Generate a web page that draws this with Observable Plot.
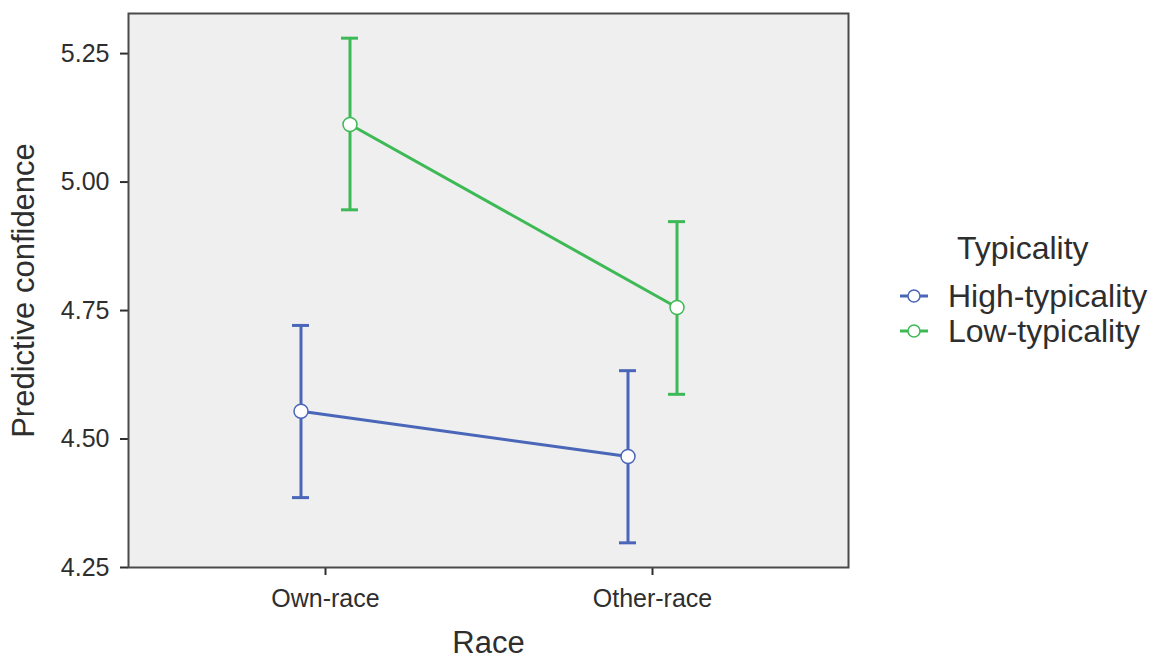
<!DOCTYPE html>
<html>
<head>
<meta charset="utf-8">
<script src="https://cdn.jsdelivr.net/npm/d3@7"></script>
<script src="https://cdn.jsdelivr.net/npm/@observablehq/plot@0.6"></script>
<style>
  html, body { margin: 0; padding: 0; background: #ffffff; }
  #wrap { position: relative; width: 1158px; height: 660px; }
  #legend { position: absolute; left: 0; top: 0; pointer-events: none; }
</style>
</head>
<body>
<div id="wrap"></div>
<script>
// ---- data ----
const races = ["Own-race", "Other-race"];
const typicality = ["High-typicality", "Low-typicality"];
const highMean  = [4.554, 4.466];
const highLower = [4.386, 4.298];
const highUpper = [4.721, 4.633];
const lowMean   = [5.112, 4.756];
const lowLower  = [4.946, 4.587];
const lowUpper  = [5.280, 4.923];
const yTicks = [4.25, 4.50, 4.75, 5.00, 5.25];
const xTitle = "Race";
const yTitle = "Predictive confidence";
const legendTitle = "Typicality";

// ---- styling ----
const colors = ["#4a66b8", "#3db955"];
const dodge = [-24.5, 24.5];
const font = "'Liberation Sans', Arial, Helvetica, sans-serif";

const seriesData = [
  races.map((r, i) => ({race: r, mean: highMean[i], lower: highLower[i], upper: highUpper[i], typ: typicality[0]})),
  races.map((r, i) => ({race: r, mean: lowMean[i], lower: lowLower[i], upper: lowUpper[i], typ: typicality[1]}))
];

const seriesMarks = seriesData.flatMap((data, k) => [
  Plot.ruleX(data, {x: "race", y1: "lower", y2: "upper", stroke: colors[k], strokeWidth: 3, dx: dodge[k]}),
  Plot.ruleY(data, {x1: "race", x2: "race", y: "upper", stroke: colors[k], strokeWidth: 3, insetLeft: -8.5, insetRight: -8.5, dx: dodge[k]}),
  Plot.ruleY(data, {x1: "race", x2: "race", y: "lower", stroke: colors[k], strokeWidth: 3, insetLeft: -8.5, insetRight: -8.5, dx: dodge[k]})
]);
const lineMarks = seriesData.flatMap((data, k) => [
  Plot.line(data, {x: "race", y: "mean", stroke: colors[k], strokeWidth: 3, dx: dodge[k]})
]);
const dotMarks = seriesData.flatMap((data, k) => [
  Plot.dot(data, {x: "race", y: "mean", r: 7, fill: "white", stroke: colors[k], strokeWidth: 1.5, dx: dodge[k]})
]);

const chart = Plot.plot({
  width: 1158,
  height: 660,
  marginLeft: 128,
  marginRight: 310,
  marginTop: 13,
  marginBottom: 93,
  style: {fontFamily: font, fontSize: "25px", color: "#2e2e2e", background: "#ffffff", overflow: "visible"},
  x: {type: "point", domain: races, padding: 0.6, label: null},
  y: {domain: [4.25, 5.328], label: null},
  marks: [
    Plot.frame({fill: "#efefef"}),
    Plot.axisY({ticks: yTicks, tickFormat: d3.format(".2f"), tickSize: 8, tickPadding: 11, strokeWidth: 2, fontSize: 25, label: null}),
    Plot.axisX({tickSize: 8, tickPadding: 14, strokeWidth: 2, fontSize: 25, label: null}),
    ...seriesMarks,
    ...lineMarks,
    ...dotMarks,
    Plot.frame({stroke: "#4a4a4a", strokeWidth: 2}),
    Plot.text([xTitle], {frameAnchor: "bottom", dy: 76, fontSize: 31, lineAnchor: "middle", fill: "#2e2e2e"}),
    Plot.text([yTitle], {frameAnchor: "left", dx: -104, rotate: -90, fontSize: 31, textAnchor: "middle", lineAnchor: "middle", fill: "#2e2e2e"})
  ]
});

const wrap = document.getElementById("wrap");
wrap.appendChild(chart);

// ---- legend ----
const leg = d3.select(wrap).append("svg")
  .attr("id", "legend")
  .attr("width", 1158).attr("height", 660)
  .style("font-family", font);
leg.append("text").attr("x", 957).attr("y", 259)
  .attr("font-size", 32).attr("fill", "#2e2e2e").text(legendTitle);
typicality.forEach((t, k) => {
  const cy = 296 + k * 35;
  const g = leg.append("g");
  g.append("line").attr("x1", 900).attr("x2", 928).attr("y1", cy).attr("y2", cy)
    .attr("stroke", colors[k]).attr("stroke-width", 3);
  g.append("circle").attr("cx", 914).attr("cy", cy).attr("r", 6)
    .attr("fill", "white").attr("stroke", colors[k]).attr("stroke-width", 1.5);
  g.append("text").attr("x", 948).attr("y", cy + 11)
    .attr("font-size", 32).attr("fill", "#2e2e2e").text(t);
});
</script>
</body>
</html>
